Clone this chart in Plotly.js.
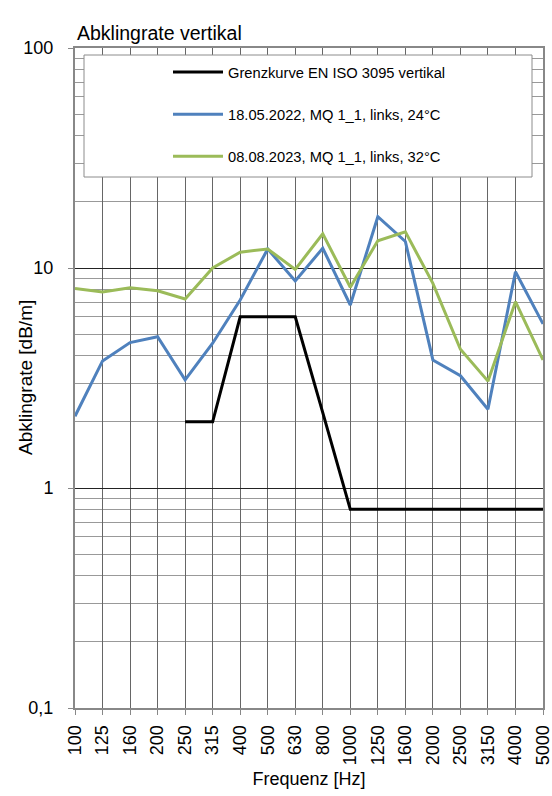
<!DOCTYPE html>
<html>
<head>
<meta charset="utf-8">
<script src="https://cdn.plot.ly/plotly-3.0.1.min.js"></script>
<style>html,body{margin:0;padding:0;background:#fff;}#chart{width:552px;height:796px;}</style>
</head>
<body>
<div id="chart"></div>
<script>
const categories = ['100','125','160','200','250','315','400','500','630','800','1000','1250','1600','2000','2500','3150','4000','5000'];
const grenzkurve = [null,null,null,null,2,2,6,6,6,2.2,0.8,0.8,0.8,0.8,0.8,0.8,0.8,0.8];
const mess2022 = [2.12,3.78,4.58,4.87,3.10,4.55,7.15,12.2,8.73,12.3,6.79,17.1,13.2,3.82,3.24,2.28,9.62,5.57];
const mess2023 = [8.08,7.78,8.14,7.88,7.23,10.0,11.8,12.2,9.86,14.3,8.17,13.3,14.6,8.52,4.27,3.06,7.03,3.82];
const seriesNames = ['Grenzkurve EN ISO 3095 vertikal','18.05.2022, MQ 1_1, links, 24°C','08.08.2023, MQ 1_1, links, 32°C'];
const yTickVals = [0.1,1,10,100];
const yTickText = ['0,1','1','10','100'];

const minorVals = [];
[0.1,1,10].forEach(d => { for (let k = 2; k <= 9; k++) minorVals.push(+(d*k).toFixed(3)); });

const font = 'Liberation Sans, Arial, sans-serif';
const traces = [
  {x: categories, y: grenzkurve, name: seriesNames[0], type:'scatter', mode:'lines', line:{color:'#000000', width:3}, legendgroup:'g1', connectgaps:false},
  {x: categories, y: mess2022, name: seriesNames[1], type:'scatter', mode:'lines', line:{color:'#4F81BD', width:3}, legendgroup:'g2'},
  {x: categories, y: mess2023, name: seriesNames[2], type:'scatter', mode:'lines', line:{color:'#9BBB59', width:3}, legendgroup:'g3'}
];

const layout = {
  width: 552, height: 796,
  margin: {l:75, r:9, t:48, b:88},
  paper_bgcolor:'#ffffff', plot_bgcolor:'#ffffff',
  font: {family: font, color:'#000000', size:15},
  title: {text:'Abklingrate vertikal', font:{family:font, size:19.5, color:'#000'}, x:77/552, xanchor:'left', xref:'container', y:1-33/796, yanchor:'middle'},
  showlegend: true,
  legend: {x:(168-75)/468, xanchor:'left', y:(708-56)/660, yanchor:'top', bgcolor:'rgba(0,0,0,0)', borderwidth:0,
           font:{family:font, size:14.7, color:'#000'}, traceorder:'grouped', tracegroupgap:20, itemwidth:50},
  xaxis: {type:'category', range:[0,17], showgrid:true, gridcolor:'#666', gridwidth:1,
          ticks:'outside', ticklen:5, tickcolor:'#888', tickangle:-90, tickfont:{family:font, size:18},
          ticklabelstandoff:3,
          showline:true, linecolor:'#888', linewidth:2, mirror:true, zeroline:false,
          title:{text:'Frequenz [Hz]', font:{family:font, size:18}, standoff:8}},
  yaxis: {type:'log', range:[-1,2], tickmode:'array', tickvals:yTickVals, ticktext:yTickText,
          ticks:'outside', ticklen:5, tickcolor:'#888', tickfont:{family:font, size:18}, ticklabelstandoff:11,
          showgrid:true, gridcolor:'#222', gridwidth:1,
          minor:{tickmode:'array', tickvals:minorVals, showgrid:true, gridcolor:'#999', gridwidth:1, ticks:''},
          showline:true, linecolor:'#888', linewidth:2, mirror:true, zeroline:false},
  annotations: [
    {text:'Abklingrate [dB/m]', xref:'paper', yref:'paper', x:(25-75)/468, y:0.5, xanchor:'center', yanchor:'middle',
     textangle:-90, showarrow:false, font:{family:font, size:19, color:'#000'}}
  ],
  shapes: [
    {type:'rect', xref:'paper', yref:'paper', x0:(84-75)/468, x1:(532-75)/468, y0:(708-177)/660, y1:(708-55)/660,
     line:{color:'#8c8c8c', width:1}, fillcolor:'#ffffff', layer:'above'}
  ]
};

Plotly.newPlot('chart', traces, layout, {displayModeBar:false, staticPlot:true});
</script>
</body>
</html>
